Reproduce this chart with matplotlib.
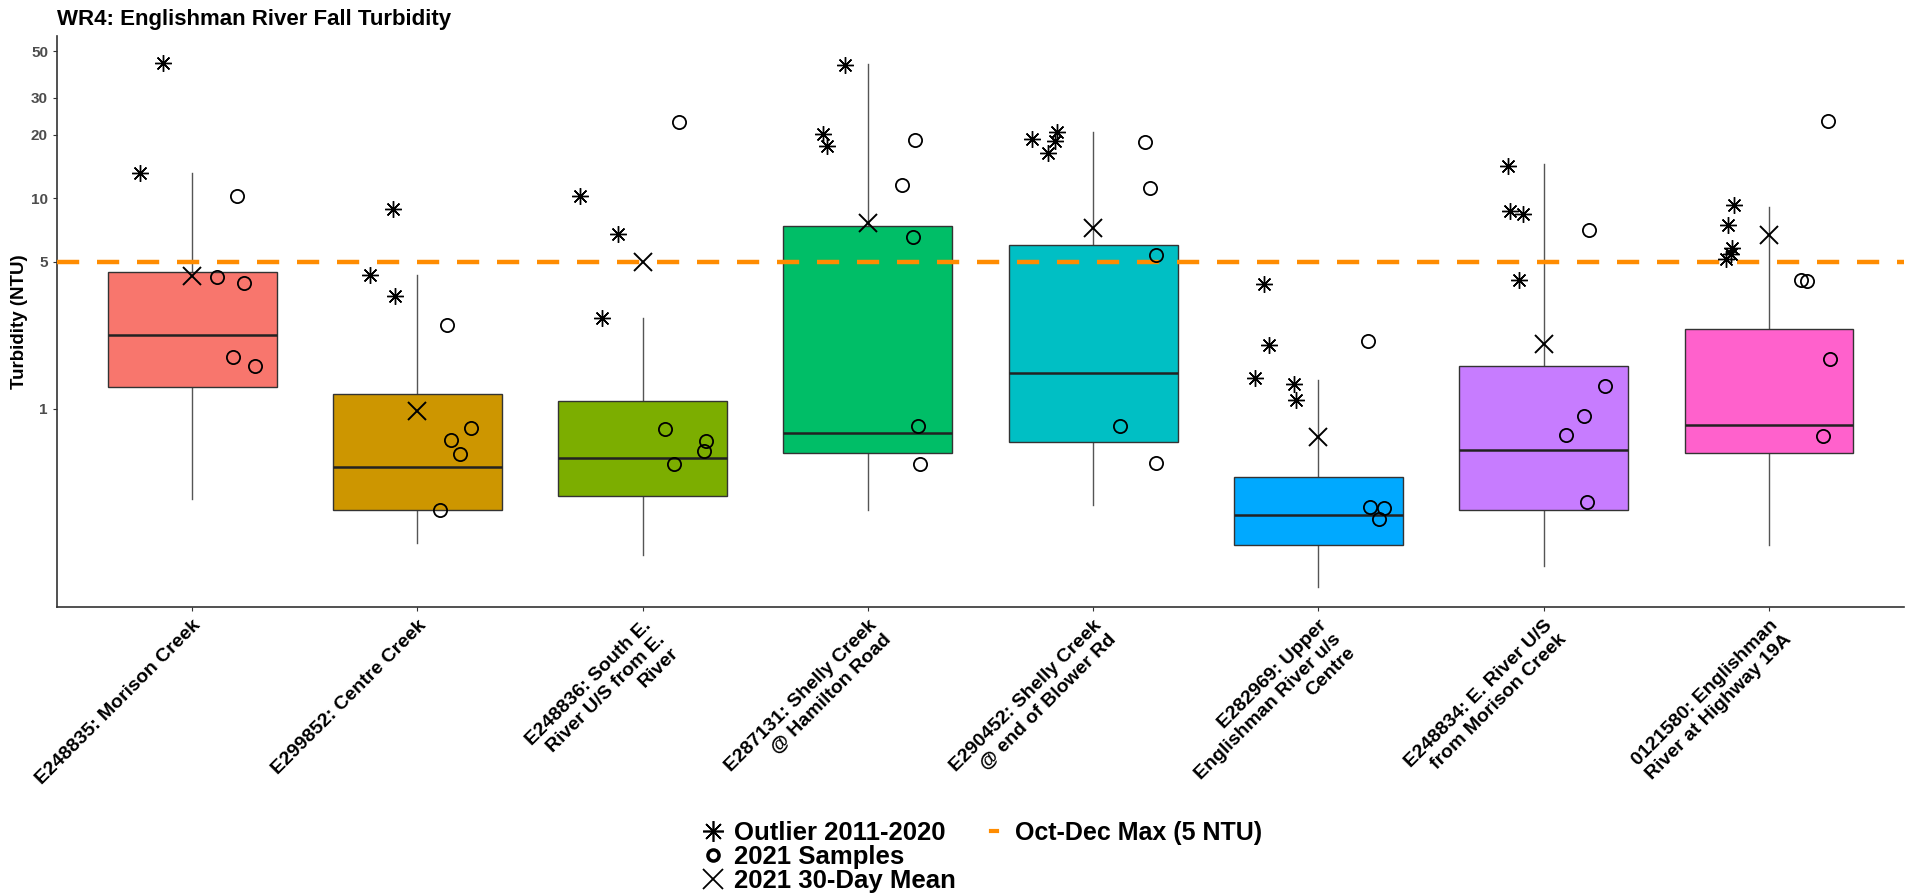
import matplotlib
matplotlib.use("Agg")
import matplotlib.pyplot as plt
from matplotlib.lines import Line2D
import numpy as np

plt.rcParams['font.family'] = ['Liberation Sans', 'DejaVu Sans']

# sites (x axis)
sites = ["E248835: Morison Creek",
         "E299852: Centre Creek",
         "E248836: South E.\nRiver U/S from E.\nRiver",
         "E287131: Shelly Creek\n@ Hamilton Road",
         "E290452: Shelly Creek\n@ end of Blower Rd",
         "E282969: Upper\nEnglishman River u/s\nCentre",
         "E248834: E. River U/S\nfrom Morison Creek",
         "0121580: Englishman\nRiver at Highway 19A"]

# box stats 2011-2020 (NTU)
box_q1 = [1.27, 0.330, 0.384, 0.618, 0.695, 0.225, 0.328, 0.614]
box_med = [2.24, 0.525, 0.583, 0.769, 1.47, 0.313, 0.638, 0.832]
box_q3 = [4.46, 1.17, 1.09, 7.34, 5.97, 0.473, 1.60, 2.39]
whisk_lo = [0.373, 0.229, 0.201, 0.330, 0.348, 0.142, 0.179, 0.226]
whisk_hi = [13.2, 4.33, 2.71, 43.5, 20.7, 1.37, 14.6, 9.10]

# 2021 30-day mean
mean_2021 = [4.29, 0.975, 5.0, 7.63, 7.20, 0.733, 2.02, 6.71]

# outliers 2011-2020
outliers = [[43.8, 13.2],
            [8.91, 4.33, 3.44],
            [10.2, 6.79, 2.71],
            [43.1, 20.1, 17.7],
            [19.1, 20.7, 18.8, 16.4],
            [3.90, 2.0, 1.40, 1.31, 1.10],
            [14.3, 8.65, 8.42, 4.08],
            [9.28, 7.49, 5.80, 5.45, 5.16]]
outlier_jitter = [[-0.13, -0.23],
                  [-0.11, -0.21, -0.10],
                  [-0.28, -0.11, -0.18],
                  [-0.10, -0.20, -0.18],
                  [-0.27, -0.16, -0.17, -0.20],
                  [-0.24, -0.22, -0.28, -0.11, -0.10],
                  [-0.16, -0.15, -0.09, -0.11],
                  [-0.155, -0.18, -0.165, -0.17, -0.19]]

# 2021 samples
samples = [[10.2, 4.24, 3.97, 1.76, 1.59],
           [2.50, 0.809, 0.71, 0.610, 0.330],
           [23.0, 0.80, 0.698, 0.626, 0.545],
           [19.0, 11.6, 6.54, 0.827, 0.545],
           [18.4, 11.2, 5.37, 0.83, 0.552],
           [2.10, 0.341, 0.337, 0.30],
           [7.06, 1.28, 0.918, 0.752, 0.36],
           [23.3, 4.08, 4.05, 1.72, 0.738]]
sample_jitter = [[0.20, 0.11, 0.23, 0.18, 0.28],
                 [0.13, 0.24, 0.15, 0.19, 0.10],
                 [0.16, 0.10, 0.28, 0.27, 0.14],
                 [0.21, 0.15, 0.20, 0.22, 0.23],
                 [0.23, 0.25, 0.28, 0.12, 0.28],
                 [0.22, 0.23, 0.29, 0.27],
                 [0.20, 0.27, 0.18, 0.10, 0.19],
                 [0.26, 0.14, 0.17, 0.27, 0.24]]

guideline = 5  # Oct-Dec max
yticks = [1, 5, 10, 20, 30, 50]

colors = ["#F8766D", "#CD9600", "#7CAE00", "#00BE67",
          "#00BFC4", "#00A9FF", "#C77CFF", "#FF61CC"]

fig = plt.figure(figsize=(19.07, 8.96), dpi=100)
ax = fig.add_axes([0.0299, 0.3225, 0.9686, 0.6373])

pos = np.arange(1, len(sites) + 1)
stats = []
for i in range(len(sites)):
    stats.append(dict(med=box_med[i], q1=box_q1[i], q3=box_q3[i],
                      whislo=whisk_lo[i], whishi=whisk_hi[i], fliers=[]))

bp = ax.bxp(stats, positions=pos, widths=0.75, patch_artist=True, showcaps=False,
            boxprops=dict(edgecolor="#333333", linewidth=1.0),
            whiskerprops=dict(color="#555555", linewidth=1.0),
            medianprops=dict(color="#222222", linewidth=1.8))
for patch, c in zip(bp['boxes'], colors):
    patch.set_facecolor(c)
for w in bp['whiskers']:
    w.set_zorder(1)

ax.axhline(guideline, color="darkorange", lw=3.2, dashes=(5, 4), zorder=4)

for i in range(len(sites)):
    ax.plot(pos[i] + np.array(outlier_jitter[i]), outliers[i], ls='none',
            marker=(8, 2, 0), ms=12, mew=1.0, color='black', zorder=5)
    ax.plot(pos[i] + np.array(sample_jitter[i]), samples[i], ls='none',
            marker='o', ms=9.5, mfc='none', mec='black', mew=1.3, zorder=5)
ax.plot(pos, mean_2021, ls='none', marker='x', ms=13, mew=1.4,
        color='black', zorder=5)

ax.set_yscale('log')
ax.set_ylim(0.114, 59)
ax.set_xlim(0.4, 8.6)
ax.set_yticks(yticks)
ax.set_yticklabels([str(t) for t in yticks], fontsize=11, fontweight='bold',
                   color='#4D4D4D')
ax.yaxis.set_minor_locator(matplotlib.ticker.NullLocator())
ax.set_xticks(pos)
ax.set_xticklabels(sites, rotation=45, ha='right', va='top',
                   rotation_mode='anchor', fontsize=14, fontweight='bold',
                   multialignment='right')
ax.tick_params(axis='both', length=3, color='#333333', width=0.8)
ax.tick_params(axis='x', pad=4)
for s in ['top', 'right']:
    ax.spines[s].set_visible(False)
for s in ['left', 'bottom']:
    ax.spines[s].set_color('#333333')
    ax.spines[s].set_linewidth(1.2)

fig.text(0.0299, 1 - 19 / 896, "WR4: Englishman River Fall Turbidity",
         ha='left', va='center', fontsize=16, fontweight='bold')
fig.text(20 / 1907, 1 - 322 / 896, "Turbidity (NTU)", rotation=90,
         ha='center', va='center', fontsize=13.5, fontweight='bold')

h1 = [Line2D([], [], ls='none', marker=(8, 2, 0), ms=15, mew=1.2, color='black'),
      Line2D([], [], ls='none', marker='o', ms=8, mfc='none', mec='black', mew=2.5),
      Line2D([], [], ls='none', marker='x', ms=14, mew=1.3, color='black')]
fig.legend(h1, ["Outlier 2011-2020", "2021 Samples", "2021 30-Day Mean"],
           loc='upper left', bbox_to_anchor=(0.3676, 0.084), frameon=False,
           prop=dict(size=18.5, weight='bold'), handlelength=0.9,
           handletextpad=0.37, labelspacing=0.0, borderpad=0, borderaxespad=0)
h2 = [Line2D([], [], color='darkorange', lw=3)]
fig.legend(h2, ["Oct-Dec Max (5 NTU)"], loc='upper left',
           bbox_to_anchor=(0.5197, 0.084), frameon=False,
           prop=dict(size=18, weight='bold'), handlelength=0.25,
           handletextpad=0.7, borderpad=0, borderaxespad=0)

fig.savefig("out.png", dpi=100)
